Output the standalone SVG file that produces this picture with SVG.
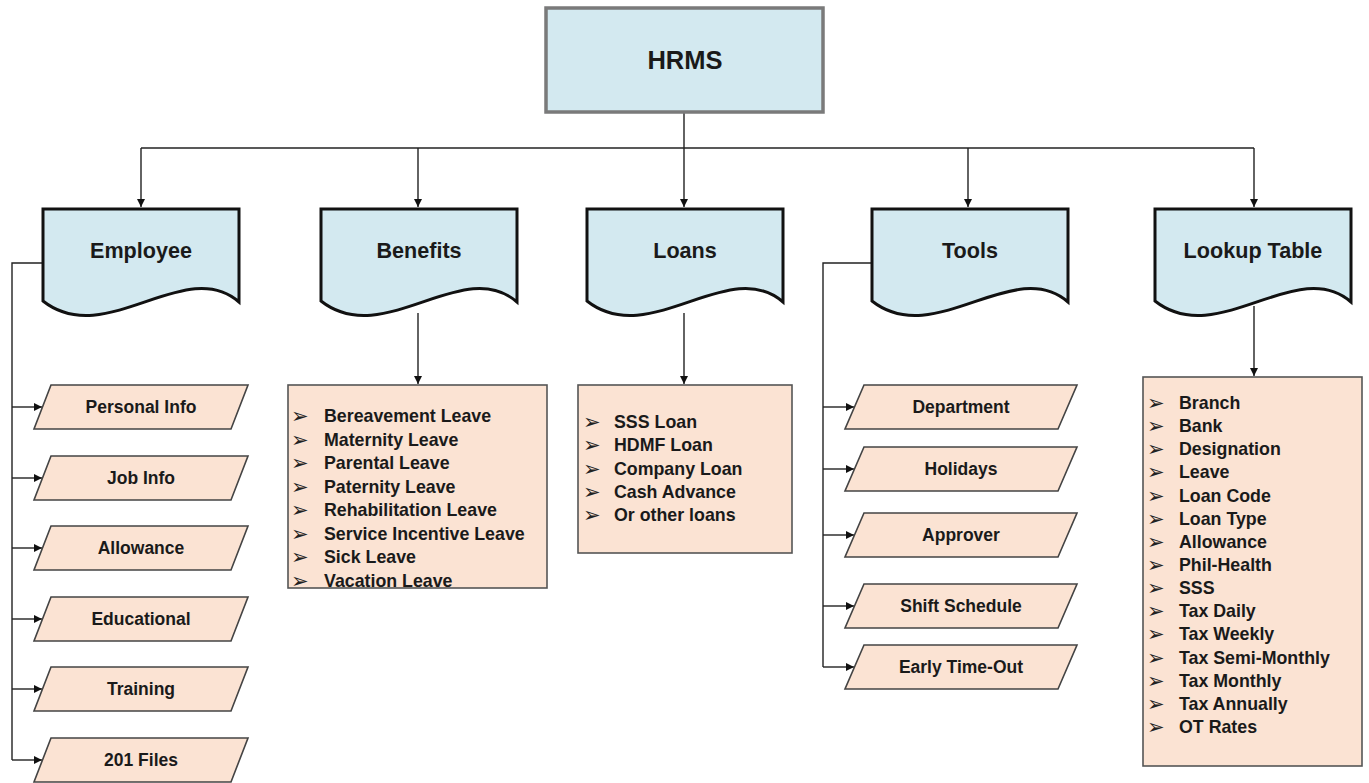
<svg xmlns="http://www.w3.org/2000/svg" width="1369" height="783" viewBox="0 0 1369 783">
<defs>
<style>
.doc{fill:#d3e9f0;stroke:#111;stroke-width:3}
.para{fill:#fbe3d3;stroke:#444;stroke-width:1.6}
.list{fill:#fbe3d3;stroke:#555;stroke-width:1.6}
.conn{fill:none;stroke:#222;stroke-width:1.4}
.t{font-family:"Liberation Sans",Arial,sans-serif;font-weight:bold;fill:#1a1a1a;text-anchor:middle;dominant-baseline:central}
.nt{font-size:21.6px}
.pt{font-size:17.5px}
.li{font-family:"Liberation Sans",Arial,sans-serif;font-weight:bold;fill:#1a1a1a;font-size:17.8px;dominant-baseline:central}
.bl{font-family:"DejaVu Sans",sans-serif;fill:#222;font-size:21px;dominant-baseline:central}
</style>
<marker id="arr" viewBox="0 0 10 10" refX="10" refY="5" markerWidth="8" markerHeight="8" markerUnits="userSpaceOnUse" orient="auto">
<path d="M0,0 L10,5 L0,10 Z" fill="#111"/>
</marker>
<path id="docshape" d="M0,0 H196 V93 C142,46 62,141 0,92 Z"/>
</defs>
<rect width="1369" height="783" fill="#fff"/>

<g id="connectors" class="conn">
<path d="M684,112 V148"/>
<path d="M141,148 H1254"/>
<path d="M141,148 V207" marker-end="url(#arr)"/>
<path d="M418,148 V207" marker-end="url(#arr)"/>
<path d="M684,148 V207" marker-end="url(#arr)"/>
<path d="M968,148 V207" marker-end="url(#arr)"/>
<path d="M1254,148 V207" marker-end="url(#arr)"/>
<path d="M418,313 V384" marker-end="url(#arr)"/>
<path d="M684,313 V384" marker-end="url(#arr)"/>
<path d="M1254,306 V376" marker-end="url(#arr)"/>
<path d="M43,263 H12 V760"/>
<path d="M12,407 H42" marker-end="url(#arr)"/>
<path d="M12,478 H42" marker-end="url(#arr)"/>
<path d="M12,548 H42" marker-end="url(#arr)"/>
<path d="M12,619 H42" marker-end="url(#arr)"/>
<path d="M12,689 H42" marker-end="url(#arr)"/>
<path d="M12,760 H42" marker-end="url(#arr)"/>
<path d="M872,263 H823 V667"/>
<path d="M823,407 H854" marker-end="url(#arr)"/>
<path d="M823,469 H854" marker-end="url(#arr)"/>
<path d="M823,535 H854" marker-end="url(#arr)"/>
<path d="M823,606 H854" marker-end="url(#arr)"/>
<path d="M823,667 H854" marker-end="url(#arr)"/>
</g>

<g id="hrms">
<rect x="546" y="8" width="277" height="104" fill="#d3e9f0" stroke="#7a7a7a" stroke-width="3.5"/>
<text class="t" x="685" y="60" font-size="25.5px">HRMS</text>
</g>

<g id="employee">
<use href="#docshape" x="43" y="209" class="doc"/>
<text class="t nt" x="141" y="250">Employee</text>
</g>
<g id="benefits">
<use href="#docshape" x="321" y="209" class="doc"/>
<text class="t nt" x="419" y="250">Benefits</text>
</g>
<g id="loans">
<use href="#docshape" x="587" y="209" class="doc"/>
<text class="t nt" x="685" y="250">Loans</text>
</g>
<g id="tools">
<use href="#docshape" x="872" y="209" class="doc"/>
<text class="t nt" x="970" y="250">Tools</text>
</g>
<g id="lookup">
<use href="#docshape" x="1155" y="209" class="doc"/>
<text class="t nt" x="1253" y="250">Lookup Table</text>
</g>

<g id="personal-info"><polygon class="para" points="51,385 248,385 231,429 34,429"/><text class="t pt" x="141" y="407">Personal Info</text></g>
<g id="job-info"><polygon class="para" points="51,456 248,456 231,500 34,500"/><text class="t pt" x="141" y="478">Job Info</text></g>
<g id="allowance"><polygon class="para" points="51,526 248,526 231,570 34,570"/><text class="t pt" x="141" y="548">Allowance</text></g>
<g id="educational"><polygon class="para" points="51,597 248,597 231,641 34,641"/><text class="t pt" x="141" y="619">Educational</text></g>
<g id="training"><polygon class="para" points="51,667 248,667 231,711 34,711"/><text class="t pt" x="141" y="689">Training</text></g>
<g id="files201"><polygon class="para" points="51,738 248,738 231,782 34,782"/><text class="t pt" x="141" y="760">201 Files</text></g>

<g id="department"><polygon class="para" points="864,385 1077,385 1058,429 845,429"/><text class="t pt" x="961" y="407">Department</text></g>
<g id="holidays"><polygon class="para" points="864,447 1077,447 1058,491 845,491"/><text class="t pt" x="961" y="469">Holidays</text></g>
<g id="approver"><polygon class="para" points="864,513 1077,513 1058,557 845,557"/><text class="t pt" x="961" y="535">Approver</text></g>
<g id="shift-schedule"><polygon class="para" points="864,584 1077,584 1058,628 845,628"/><text class="t pt" x="961" y="606">Shift Schedule</text></g>
<g id="early-timeout"><polygon class="para" points="864,645 1077,645 1058,689 845,689"/><text class="t pt" x="961" y="667">Early Time-Out</text></g>

<g id="benefits-list">
<rect class="list" x="288" y="385" width="259" height="203"/>
<g class="bl"><text x="291" y="416">➢</text><text x="291" y="439.5">➢</text><text x="291" y="463">➢</text><text x="291" y="486.5">➢</text><text x="291" y="510">➢</text><text x="291" y="533.5">➢</text><text x="291" y="557">➢</text><text x="291" y="580.5">➢</text></g>
<g class="li">
<text x="324" y="416">Bereavement Leave</text>
<text x="324" y="439.5">Maternity Leave</text>
<text x="324" y="463">Parental Leave</text>
<text x="324" y="486.5">Paternity Leave</text>
<text x="324" y="510">Rehabilitation Leave</text>
<text x="324" y="533.5">Service Incentive Leave</text>
<text x="324" y="557">Sick Leave</text>
<text x="324" y="580.5">Vacation Leave</text>
</g>
</g>

<g id="loans-list">
<rect class="list" x="578" y="385" width="214" height="168"/>
<g class="bl"><text x="583" y="422">➢</text><text x="583" y="445">➢</text><text x="583" y="469">➢</text><text x="583" y="492">➢</text><text x="583" y="515">➢</text></g>
<g class="li">
<text x="614" y="422">SSS Loan</text>
<text x="614" y="445">HDMF Loan</text>
<text x="614" y="469">Company Loan</text>
<text x="614" y="492">Cash Advance</text>
<text x="614" y="515">Or other loans</text>
</g>
</g>

<g id="lookup-list">
<rect class="list" x="1143" y="377" width="219" height="389"/>
<g class="bl">
<text x="1147" y="403">➢</text><text x="1147" y="426.1">➢</text><text x="1147" y="449.3">➢</text><text x="1147" y="472.4">➢</text><text x="1147" y="495.6">➢</text><text x="1147" y="518.7">➢</text><text x="1147" y="541.9">➢</text><text x="1147" y="565">➢</text><text x="1147" y="588.1">➢</text><text x="1147" y="611.3">➢</text><text x="1147" y="634.4">➢</text><text x="1147" y="657.6">➢</text><text x="1147" y="680.7">➢</text><text x="1147" y="703.9">➢</text><text x="1147" y="727">➢</text>
</g>
<g class="li">
<text x="1179" y="403">Branch</text>
<text x="1179" y="426.1">Bank</text>
<text x="1179" y="449.3">Designation</text>
<text x="1179" y="472.4">Leave</text>
<text x="1179" y="495.6">Loan Code</text>
<text x="1179" y="518.7">Loan Type</text>
<text x="1179" y="541.9">Allowance</text>
<text x="1179" y="565">Phil-Health</text>
<text x="1179" y="588.1">SSS</text>
<text x="1179" y="611.3">Tax Daily</text>
<text x="1179" y="634.4">Tax Weekly</text>
<text x="1179" y="657.6">Tax Semi-Monthly</text>
<text x="1179" y="680.7">Tax Monthly</text>
<text x="1179" y="703.9">Tax Annually</text>
<text x="1179" y="727">OT Rates</text>
</g>
</g>
</svg>
